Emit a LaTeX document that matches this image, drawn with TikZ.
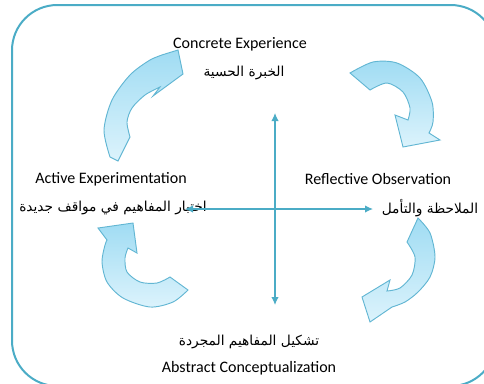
\documentclass[tikz,border=0pt]{standalone}
\usepackage{fontspec}
\setmainfont{Carlito}
\newfontfamily\arabicfont[Script=Arabic]{DejaVu Sans}
\TeXXeTstate=1
\usetikzlibrary{positioning,arrows.meta}

\definecolor{frameblue}{HTML}{4BACC6}
\definecolor{cycline}{HTML}{62B6D3}
\definecolor{cyctop}{HTML}{A0DCF3}
\definecolor{cycbot}{HTML}{DCF3FC}

\begin{document}
\begin{tikzpicture}[
  x=0.75pt, y=-0.75pt,
  node distance=11pt,
  engtext/.style={font=\fontsize{12}{14}\selectfont, inner sep=0pt},
  artext/.style={font=\fontsize{10.3}{12}\selectfont\arabicfont, inner sep=0pt},
  axisline/.style={draw=frameblue, line width=0.8pt, {Latex[length=6pt,width=5.5pt]}-{Latex[length=6pt,width=5.5pt]}},
  cyc/.style={draw=cycline, line width=0.7pt, top color=cyctop, bottom color=cycbot}
]
  \useasboundingbox (0,0) rectangle (484,383);

  % frame
  \draw[frameblue, line width=1.5pt, rounded corners=34pt] (12,5) rectangle (496,386);

  % the four stages
  \node (ce) [engtext] at (240,44) {Concrete Experience};
  \node (ceAr) [artext, below=of ce, xshift=3pt] {\beginR الخبرة الحسية\endR};

  \node (ro) [engtext] at (378,179) {Reflective Observation};
  \node (roAr) [artext, below=of ro, xshift=39pt] {\beginR الملاحظة والتأمل\endR};

  \node (ae) [engtext] at (111,179) {Active Experimentation};
  \node (aeAr) [artext, below=of ae, xshift=1.5pt] {\beginR اختبار المفاهيم في مواقف جديدة\endR};

  \node (ac) [engtext] at (249,368) {Abstract Conceptualization};
  \node (acAr) [artext, above=9pt of ac] {\beginR تشكيل المفاهيم المجردة\endR};

  % cycle arrows
  \path[cyc] plot[smooth] coordinates {(110,157) (104,130) (112,100) (130,75) (150,60) (165,54)}
    -- (178,50) -- (183,74) -- (153,96) -- (160,87)
    -- plot[smooth] coordinates {(160,87) (145,95) (132,108) (127,122) (130,137)}
    -- (118,161) -- cycle;

  \path[cyc] plot[smooth] coordinates {(350,73) (373,62) (397,63) (420,78) (432,102) (433,122) (429,133)}
    -- (440,140) -- (403,147) -- (395,115) -- (408,120)
    -- plot[smooth] coordinates {(408,120) (410,108) (403,92) (387,83) (370,90)} -- cycle;

  \path[cyc] plot[smooth] coordinates {(418,218) (430,233) (435,257) (430,277) (418,292) (405,302) (392,307)}
    -- (370,322) -- (362,297) -- (390,280) -- (387,291)
    -- plot[smooth] coordinates {(387,291) (400,288) (412,275) (415,257) (407,242)} -- cycle;

  \path[cyc] plot[smooth] coordinates {(188,290) (173,302) (150,307) (123,298) (107,282) (102,262) (105,245) (107,240)}
    -- (98,228) -- (133,223) -- (137,253) -- (128,248)
    -- plot[smooth] coordinates {(128,248) (125,258) (127,272) (140,282) (157,283) (170,277)} -- cycle;

  % axes
  \coordinate (vTop) at (275,113);
  \coordinate (vBot) at (275,305);
  \coordinate (hLeft) at (185,209);
  \coordinate (hRight) at (373,209);
  \draw[axisline] (vTop) -- (vBot);
  \draw[axisline] (hLeft) -- (hRight);
\end{tikzpicture}
\end{document}
